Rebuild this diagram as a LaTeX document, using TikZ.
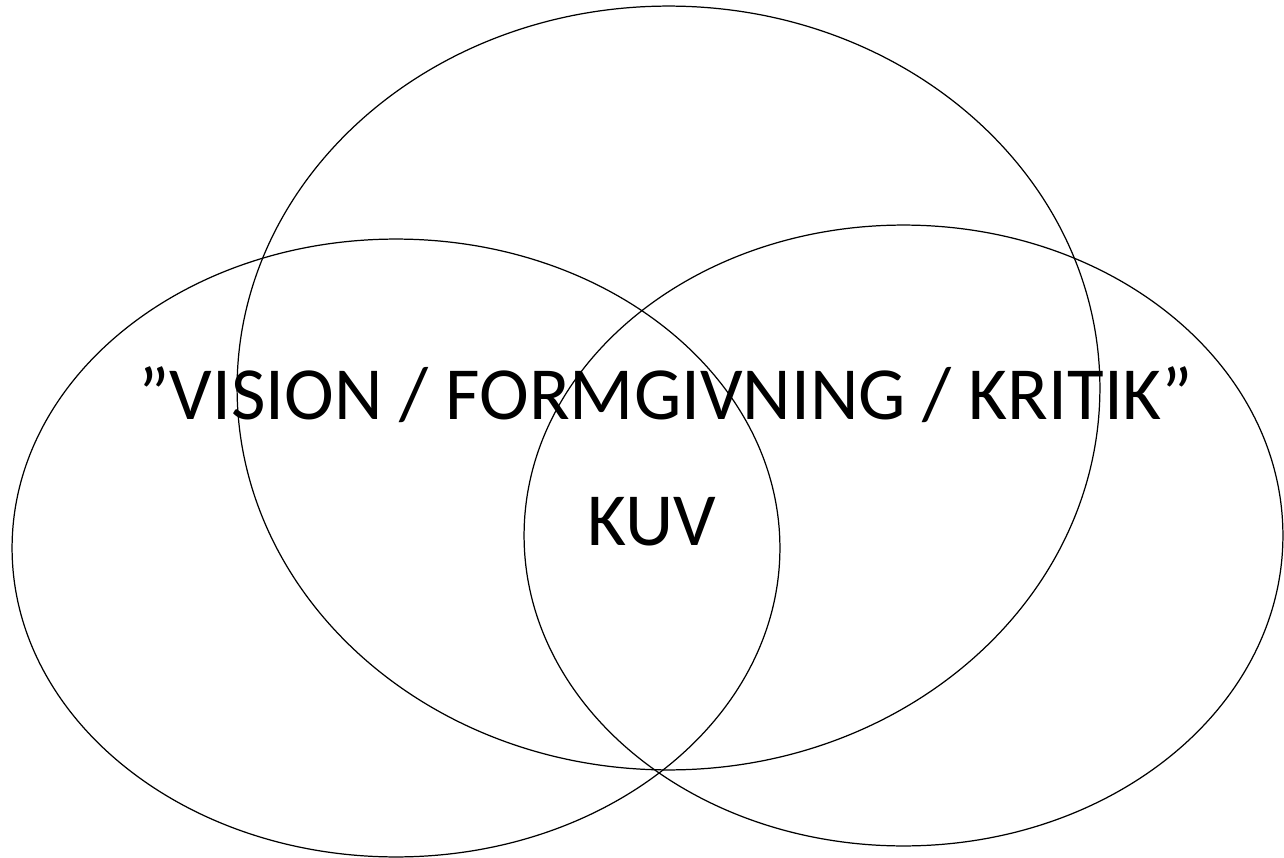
\documentclass[tikz,border=0pt]{standalone}
\usepackage{fontspec}
\setmainfont{Carlito}
\usetikzlibrary{shapes.geometric}

\tikzset{
  venn/.style={draw, ellipse, inner sep=0pt, line width=0.7pt},
  label text/.style={font=\fontsize{42.7}{50}\selectfont, anchor=base, inner sep=0pt},
}

\begin{document}
\begin{tikzpicture}[x=0.02cm, y=-0.02cm]
  \useasboundingbox (0,0) rectangle (1284,858);

  % Circles
  \node [venn, minimum width=17.26cm, minimum height=15.28cm] (top) at (668.5,388) {};
  \node [venn, minimum width=15.36cm, minimum height=12.36cm] (left) at (396,548) {};
  \node [venn, minimum width=15.18cm, minimum height=12.42cm] (right) at (903.5,535.5) {};

  % Labels
  \node [label text] (title) at (666,419) {”VISION / FORMGIVNING / KRITIK”};
  \node [label text] (kuv) at (652,545) {KUV};
\end{tikzpicture}
\end{document}
